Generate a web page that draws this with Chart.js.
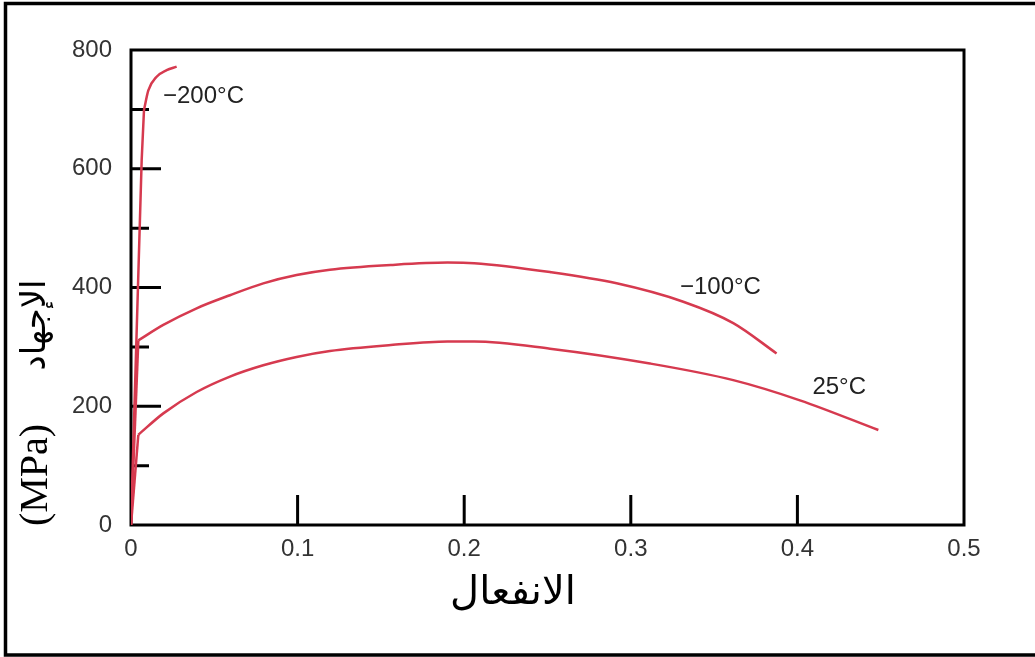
<!DOCTYPE html>
<html>
<head>
<meta charset="utf-8">
<script src="https://cdn.jsdelivr.net/npm/chart.js@4"></script>
<style>
  body { margin: 0; background: #fff; }
  canvas { display: block; }
</style>
</head>
<body>
<canvas id="stressChart" width="1035" height="657"></canvas>
<script>
// Curve data (strain, stress MPa)
// leading points = elastic line, rest = plastic curve
const strainM200 = [0, 0.0064, 0.0078, 0.0104, 0.0154, 0.0214, 0.0274];
const stressM200 = [0, 614, 699, 732, 755, 766, 772];

const strainM100 = [0, 0.0044, 0.0194, 0.0394, 0.0594, 0.0794, 0.0994, 0.1194, 0.156, 0.19, 0.206, 0.2515, 0.2915, 0.3315, 0.3615, 0.3875];
const stressM100 = [0, 311, 337, 365, 387, 407, 421, 430, 438, 442, 441, 426, 407, 376, 340, 289];

const strain25 = [0, 0.0044, 0.0194, 0.0394, 0.0594, 0.0794, 0.0994, 0.1194, 0.156, 0.19, 0.206, 0.2515, 0.3115, 0.3615, 0.4015, 0.4486];
const stress25 = [0, 152, 188, 224, 250, 269, 283, 293, 303, 309, 309, 297, 272, 244, 210, 160];

// curve labels and where they sit (data coords)
const curveLabels = ['\u2212200\u00b0C', '\u2212100\u00b0C', '25\u00b0C'];
const labelStrain = [0.0192, 0.3295, 0.409];
const labelStress = [722, 400, 232];

// inward tick marks
const yMajorTicks = [200, 400, 600];
const yMinorTicks = [100, 300, 500, 700];
const xTicks = [0.1, 0.2, 0.3, 0.4];

const xTitle = 'الانفعال';
const yTitleAr = 'الإجهاد';
const yTitleUnit = '(MPa)';

const lineColor = '#d63a4f';

function toPoints(xs, ys) {
    return xs.map((x, i) => ({ x: x, y: ys[i] }));
}

// elastic part drawn straight, plastic part smoothed
function curve(xs, ys, smoothFrom) {
    const pts = toPoints(xs, ys);
    const base = {
        showLine: true,
        borderColor: lineColor,
        borderWidth: 2.5,
        pointRadius: 0,
        fill: false
    };
    return [
        Object.assign({}, base, { data: pts.slice(0, smoothFrom + 1), tension: 0 }),
        Object.assign({}, base, { data: pts.slice(smoothFrom), cubicInterpolationMode: 'monotone' })
    ];
}

const framePlugin = {
    id: 'frame',
    beforeDatasetsDraw(chart) {
        const c = chart.ctx, a = chart.chartArea;
        const xs = chart.scales.x, ys = chart.scales.y;
        c.save();
        c.strokeStyle = '#000';
        c.lineWidth = 3;
        c.strokeRect(a.left, a.top, a.right - a.left, a.bottom - a.top);
        c.beginPath();
        yMajorTicks.forEach(v => {
            const p = ys.getPixelForValue(v);
            c.moveTo(a.left, p); c.lineTo(a.left + 30, p);
        });
        yMinorTicks.forEach(v => {
            const p = ys.getPixelForValue(v);
            c.moveTo(a.left, p); c.lineTo(a.left + 18, p);
        });
        xTicks.forEach(v => {
            const p = xs.getPixelForValue(v);
            c.moveTo(p, a.bottom); c.lineTo(p, a.bottom - 30);
        });
        c.stroke();
        c.restore();
    },
    afterDraw(chart) {
        const c = chart.ctx;
        const xs = chart.scales.x, ys = chart.scales.y;
        c.save();
        // outer frame (left, top, bottom)
        c.strokeStyle = '#000';
        c.lineWidth = 3.5;
        c.beginPath();
        c.moveTo(1035, 3.5); c.lineTo(5.5, 3.5); c.lineTo(5.5, 655); c.lineTo(1035, 655);
        c.stroke();

        // curve labels
        c.fillStyle = '#222';
        c.font = '24px "Liberation Sans", Arial, sans-serif';
        c.textAlign = 'left';
        c.textBaseline = 'middle';
        curveLabels.forEach((t, i) => {
            c.fillText(t, xs.getPixelForValue(labelStrain[i]), ys.getPixelForValue(labelStress[i]));
        });

        // x title
        c.fillStyle = '#000';
        c.textAlign = 'center';
        c.font = '40px "DejaVu Sans", sans-serif';
        c.fillText(xTitle, 513, 594);

        // y title, rotated
        c.translate(36, 0);
        c.rotate(-Math.PI / 2);
        c.font = '40px "Liberation Serif", serif';
        c.fillText(yTitleUnit, -475, 0);
        c.font = '34px "DejaVu Sans", sans-serif';
        c.fillText(yTitleAr, -325, 0);
        c.restore();
    }
};

new Chart(document.getElementById('stressChart'), {
    type: 'scatter',
    data: {
        datasets: [
            ...curve(strainM200, stressM200, 2),
            ...curve(strainM100, stressM100, 1),
            ...curve(strain25, stress25, 1)
        ]
    },
    options: {
        responsive: false,
        animation: false,
        layout: { padding: { left: 0, top: 50, right: 71, bottom: 0 } },
        plugins: {
            legend: { display: false },
            tooltip: { enabled: false }
        },
        scales: {
            x: {
                type: 'linear',
                min: 0,
                max: 0.5,
                grid: { display: false },
                border: { display: false },
                ticks: {
                    stepSize: 0.1,
                    padding: 2,
                    color: '#333',
                    font: { family: '"Liberation Sans", Arial, sans-serif', size: 24 },
                    maxRotation: 0
                },
                afterFit(scale) { scale.height = 132; }
            },
            y: {
                min: 0,
                max: 800,
                grid: { display: false },
                border: { display: false },
                ticks: {
                    stepSize: 200,
                    padding: 11,
                    color: '#333',
                    font: { family: '"Liberation Sans", Arial, sans-serif', size: 24 }
                },
                afterFit(scale) { scale.width = 131; }
            }
        }
    },
    plugins: [framePlugin]
});
</script>
</body>
</html>
